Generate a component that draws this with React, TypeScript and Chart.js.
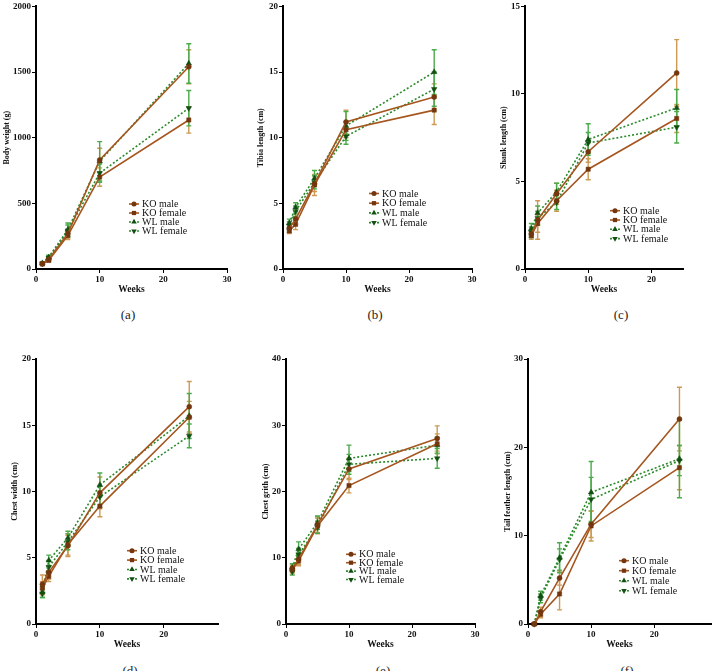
import React, { useEffect, useRef } from "react";
import { Chart, registerables } from "chart.js";

Chart.register(...registerables);

const weeks = [1, 2, 5, 10, 24];
const groupNames = ["KO male", "KO female", "WL male", "WL female"];

// Rows: KO male, KO female, WL male, WL female
const bodyWeightMean = [
  [40, 75, 270, 830, 1540],
  [38, 65, 255, 700, 1135],
  [45, 90, 300, 820, 1565],
  [42, 85, 290, 730, 1225],
];
const bodyWeightSd = [
  [8, 12, 35, 90, 130],
  [6, 10, 30, 70, 100],
  [8, 15, 50, 150, 150],
  [7, 12, 45, 70, 135],
];

const tibiaMean = [
  [3.1, 3.8, 6.5, 11.2, 13.1],
  [2.9, 3.4, 6.4, 10.6, 12.1],
  [3.5, 4.7, 6.9, 10.9, 15.0],
  [3.3, 4.4, 6.6, 10.1, 13.7],
];
const tibiaSd = [
  [0.3, 0.4, 0.6, 0.9, 1.0],
  [0.2, 0.4, 0.8, 0.6, 1.1],
  [0.3, 0.35, 0.6, 1.1, 1.7],
  [0.3, 0.4, 0.5, 0.6, 1.3],
];

const shankMean = [
  [2.0, 2.8, 4.3, 6.7, 11.2],
  [1.9, 2.6, 3.9, 5.7, 8.6],
  [2.3, 3.2, 4.4, 7.4, 9.2],
  [2.1, 2.9, 3.8, 7.2, 8.1],
];
const shankSd = [
  [0.2, 1.1, 0.6, 0.6, 1.9],
  [0.2, 0.5, 0.6, 0.6, 0.8],
  [0.3, 0.4, 0.5, 0.9, 1.05],
  [0.3, 0.4, 0.4, 0.6, 0.9],
];

const chestWidthMean = [
  [3.0, 3.9, 5.9, 9.9, 16.4],
  [2.7, 3.6, 6.0, 8.9, 15.6],
  [2.4, 4.8, 6.5, 10.5, 15.7],
  [2.3, 4.3, 6.2, 9.6, 14.2],
];
const chestWidthSd = [
  [0.7, 0.5, 0.8, 1.2, 1.9],
  [0.5, 0.4, 0.8, 0.8, 1.2],
  [0.4, 0.4, 0.5, 0.9, 1.7],
  [0.3, 0.5, 0.6, 0.8, 0.9],
];

const chestGirthMean = [
  [8.4, 9.8, 15.0, 23.4, 28.0],
  [8.2, 9.5, 14.8, 20.9, 27.2],
  [8.5, 11.3, 15.3, 25.0, 27.0],
  [7.9, 10.5, 14.6, 24.1, 25.0],
];
const chestGirthSd = [
  [0.5, 0.8, 1.2, 1.6, 1.9],
  [0.5, 0.7, 1.2, 1.1, 1.5],
  [0.6, 1.1, 1.0, 2.0, 1.2],
  [0.5, 0.9, 0.9, 1.5, 1.5],
];

const tailFeatherMean = [
  [0, 1.4, 5.2, 11.3, 23.2],
  [0, 1.1, 3.4, 11.1, 17.7],
  [0, 3.2, 7.5, 14.9, 18.7],
  [0, 2.9, 7.3, 14.1, 18.5],
];
const tailFeatherSd = [
  [0, 0.5, 0.8, 1.5, 3.6],
  [0, 0.4, 1.8, 1.7, 2.5],
  [0, 0.5, 1.7, 3.5, 4.4],
  [0, 0.5, 1.2, 2.5, 1.7],
];

const FONT = "'Liberation Serif', 'Times New Roman', 'DejaVu Serif', serif";

type Style = {
  line: string;
  marker: string;
  err: string;
  dash: number[];
  point: "circle" | "rect" | "triangle";
  rotation: number;
  radius: number;
};

const KO_LINE = "#a5561f";
const KO_MARK = "#73360f";
const KO_ERR = "#cc9a55";
const WL_LINE = "#2b8a2b";
const WL_MARK = "#134f13";
const WL_ERR = "#4bab4b";

const groupStyles: Style[] = [
  { line: KO_LINE, marker: KO_MARK, err: KO_ERR, dash: [], point: "circle", rotation: 0, radius: 2.5 },
  { line: KO_LINE, marker: KO_MARK, err: KO_ERR, dash: [], point: "rect", rotation: 0, radius: 3 },
  { line: WL_LINE, marker: WL_MARK, err: WL_ERR, dash: [2, 2], point: "triangle", rotation: 0, radius: 3.2 },
  { line: WL_LINE, marker: WL_MARK, err: WL_ERR, dash: [2, 2], point: "triangle", rotation: 180, radius: 3.2 },
];

type Rect = { left: number; top: number; right: number; bottom: number };

type Panel = {
  caption: string;
  yTitle: string;
  means: number[][];
  sds: number[][];
  yMax: number;
  yStep: number;
  xMax: number;
  box: Rect;
  area: Rect;
  legend: { x: number; y: number; gap: number };
  captionPos: { x: number; y: number };
};

const panels: Panel[] = [
  {
    caption: "(a)", yTitle: "Body weight (g)", means: bodyWeightMean, sds: bodyWeightSd,
    yMax: 2000, yStep: 500, xMax: 30,
    box: { left: 0, top: 0, right: 237, bottom: 300 },
    area: { left: 36, top: 4, right: 227, bottom: 269 },
    legend: { x: 134, y: 204, gap: 9 },
    captionPos: { x: 128, y: 314 },
  },
  {
    caption: "(b)", yTitle: "Tibia length (cm)", means: tibiaMean, sds: tibiaSd,
    yMax: 20, yStep: 5, xMax: 30,
    box: { left: 254, top: 0, right: 482, bottom: 300 },
    area: { left: 283, top: 4, right: 472, bottom: 269 },
    legend: { x: 374, y: 193.5, gap: 9.7 },
    captionPos: { x: 375, y: 314 },
  },
  {
    caption: "(c)", yTitle: "Shank length (cm)", means: shankMean, sds: shankSd,
    yMax: 15, yStep: 5, xMax: 25,
    box: { left: 497, top: 0, right: 693, bottom: 300 },
    area: { left: 525, top: 4, right: 683, bottom: 269 },
    legend: { x: 615, y: 210.7, gap: 9.3 },
    captionPos: { x: 621, y: 314 },
  },
  {
    caption: "(d)", yTitle: "Chest width (cm)", means: chestWidthMean, sds: chestWidthSd,
    yMax: 20, yStep: 5, xMax: 28.5,
    box: { left: 8, top: 330, right: 228, bottom: 655 },
    area: { left: 36, top: 359, right: 218, bottom: 624 },
    legend: { x: 132, y: 550.7, gap: 9.4 },
    captionPos: { x: 130, y: 670 },
  },
  {
    caption: "(e)", yTitle: "Chest grith (cm)", means: chestGirthMean, sds: chestGirthSd,
    yMax: 40, yStep: 10, xMax: 30,
    box: { left: 259, top: 330, right: 485, bottom: 655 },
    area: { left: 286, top: 359, right: 475, bottom: 624 },
    legend: { x: 351, y: 554.3, gap: 8.4 },
    captionPos: { x: 383, y: 670 },
  },
  {
    caption: "(f)", yTitle: "Tail feather length (cm)", means: tailFeatherMean, sds: tailFeatherSd,
    yMax: 30, yStep: 10, xMax: 29,
    box: { left: 501, top: 330, right: 712, bottom: 655 },
    area: { left: 528, top: 359, right: 711, bottom: 624 },
    legend: { x: 624, y: 560.7, gap: 10 },
    captionPos: { x: 627, y: 670 },
  },
];

function drawMarker(ctx: CanvasRenderingContext2D, s: Style, x: number, y: number) {
  ctx.save();
  ctx.fillStyle = s.marker;
  ctx.strokeStyle = s.marker;
  ctx.lineWidth = 1;
  ctx.setLineDash([]);
  ctx.beginPath();
  const r = s.radius;
  if (s.point === "circle") {
    ctx.arc(x, y, r, 0, Math.PI * 2);
  } else if (s.point === "rect") {
    const h = r * Math.SQRT1_2;
    ctx.rect(x - h, y - h, 2 * h, 2 * h);
  } else {
    const dir = s.rotation === 180 ? 1 : -1;
    ctx.moveTo(x, y + dir * r);
    ctx.lineTo(x - r * 0.866, y - dir * r * 0.5);
    ctx.lineTo(x + r * 0.866, y - dir * r * 0.5);
    ctx.closePath();
  }
  ctx.fill();
  ctx.restore();
}

function makeErrorBars(panel: Panel) {
  return {
    id: "errorBars",
    beforeDatasetsDraw(chart: any) {
      const { ctx } = chart;
      const xs = chart.scales.x;
      const ys = chart.scales.y;
      panel.means.forEach((row, g) => {
        const s = groupStyles[g];
        ctx.save();
        ctx.strokeStyle = s.err;
        ctx.lineWidth = 1.4;
        ctx.setLineDash([]);
        row.forEach((m, j) => {
          const e = panel.sds[g][j];
          if (!e) return;
          const px = xs.getPixelForValue(weeks[j]);
          const top = ys.getPixelForValue(m + e);
          const bot = ys.getPixelForValue(m - e);
          ctx.beginPath();
          ctx.moveTo(px, top);
          ctx.lineTo(px, bot);
          ctx.moveTo(px - 2.5, top);
          ctx.lineTo(px + 2.5, top);
          ctx.moveTo(px - 2.5, bot);
          ctx.lineTo(px + 2.5, bot);
          ctx.stroke();
        });
        ctx.restore();
      });
    },
  };
}

function makeLegend(panel: Panel) {
  return {
    id: "inlineLegend",
    afterDraw(chart: any) {
      const ctx: CanvasRenderingContext2D = chart.ctx;
      const ox = panel.legend.x - panel.box.left;
      const oy = panel.legend.y - panel.box.top;
      groupNames.forEach((name, i) => {
        const s = groupStyles[i];
        const cy = oy + i * panel.legend.gap;
        ctx.save();
        ctx.strokeStyle = s.line;
        ctx.lineWidth = 1.6;
        ctx.setLineDash(s.dash);
        ctx.beginPath();
        ctx.moveTo(ox - 5, cy);
        ctx.lineTo(ox + 5, cy);
        ctx.stroke();
        ctx.restore();
        drawMarker(ctx, s, ox, cy);
        ctx.save();
        ctx.fillStyle = "#111";
        ctx.font = `10px ${FONT}`;
        ctx.textBaseline = "middle";
        ctx.textAlign = "left";
        ctx.fillText(name, ox + 8, cy + 0.5);
        ctx.restore();
      });
    },
  };
}

function PanelChart({ panel }: { panel: Panel }) {
  const ref = useRef<HTMLCanvasElement | null>(null);
  const width = panel.box.right - panel.box.left;
  const height = panel.box.bottom - panel.box.top;

  useEffect(() => {
    if (!ref.current) return;
    const yAxisWidth = panel.area.left - panel.box.left;
    const xAxisHeight = panel.box.bottom - panel.area.bottom;
    const datasets = panel.means.map((row, g) => {
      const s = groupStyles[g];
      return {
        label: groupNames[g],
        data: row.map((v, j) => ({ x: weeks[j], y: v })),
        borderColor: s.line,
        borderWidth: 1.6,
        borderDash: s.dash,
        pointStyle: s.point,
        pointRotation: s.rotation,
        pointRadius: s.radius,
        pointBackgroundColor: s.marker,
        pointBorderColor: s.marker,
        pointBorderWidth: 0.5,
        fill: false,
        tension: 0,
        clip: false as any,
      };
    });
    const tickFont = { family: FONT, size: 9, weight: "bold" as const };
    const plain = (v: any) => String(v);
    const chart = new Chart(ref.current, {
      type: "line",
      data: { datasets },
      options: {
        animation: false,
        responsive: false,
        devicePixelRatio: 1,
        font: { family: FONT },
        layout: {
          autoPadding: false,
          padding: {
            top: panel.area.top - panel.box.top,
            right: panel.box.right - panel.area.right,
            left: 0,
            bottom: 0,
          },
        },
        plugins: {
          legend: { display: false },
          tooltip: { enabled: false },
        },
        scales: {
          x: {
            type: "linear",
            min: 0,
            max: panel.xMax,
            ticks: {
              stepSize: 10,
              includeBounds: false,
              font: tickFont,
              color: "#111",
              padding: 1,
              maxRotation: 0,
              callback: plain,
            },
            afterBuildTicks: (scale: any) => {
              scale.ticks = scale.ticks.filter((t: any) => t.value % 10 === 0);
            },
            afterFit: (scale: any) => {
              scale.height = xAxisHeight;
            },
            grid: { drawOnChartArea: false, drawTicks: true, tickLength: 4, color: "#000", lineWidth: 1 },
            border: { display: true, color: "#000", width: 2 },
            title: {
              display: true,
              text: "Weeks",
              color: "#111",
              font: { family: FONT, size: 9.5, weight: "bold" },
              padding: { top: 0, bottom: 4.3 },
            },
          },
          y: {
            type: "linear",
            min: 0,
            max: panel.yMax,
            ticks: {
              stepSize: panel.yStep,
              includeBounds: false,
              font: tickFont,
              color: "#111",
              padding: 1,
              callback: plain,
            },
            afterFit: (scale: any) => {
              scale.width = yAxisWidth;
            },
            grid: { drawOnChartArea: false, drawTicks: true, tickLength: 4, color: "#000", lineWidth: 1 },
            border: { display: true, color: "#000", width: 2 },
            title: {
              display: true,
              text: panel.yTitle,
              color: "#111",
              font: { family: FONT, size: 8, weight: "bold" },
              padding: { top: 2, bottom: 0 },
            },
          },
        },
      },
      plugins: [makeErrorBars(panel), makeLegend(panel)],
    } as any);
    return () => chart.destroy();
  }, [panel]);

  return (
    <canvas
      ref={ref}
      width={width}
      height={height}
      style={{
        position: "absolute",
        left: panel.box.left,
        top: panel.box.top,
        width,
        height,
      }}
    />
  );
}

export default function App() {
  return (
    <div
      style={{
        position: "absolute",
        left: 0,
        top: 0,
        width: 712,
        height: 671,
        overflow: "hidden",
        background: "#fff",
      }}
    >
      {panels.map((p) => (
        <React.Fragment key={p.caption}>
          <PanelChart panel={p} />
          <div
            style={{
              position: "absolute",
              left: p.captionPos.x,
              top: p.captionPos.y,
              transform: "translate(-50%, -50%)",
              fontFamily: FONT,
              fontSize: 13,
              color: "#222",
              lineHeight: 1,
              whiteSpace: "nowrap",
            }}
          >
            {p.caption}
          </div>
        </React.Fragment>
      ))}
    </div>
  );
}
